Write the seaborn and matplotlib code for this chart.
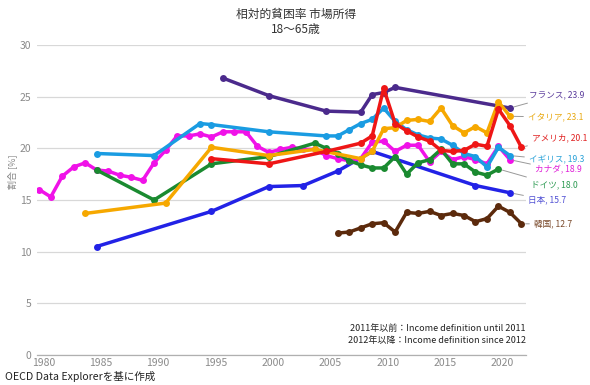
import pandas as pd
import matplotlib
matplotlib.use("Agg")
import matplotlib.pyplot as plt
import matplotlib.transforms as mtransforms
import seaborn as sns

# --- data (relative poverty rate, market income, age 18-65) ---
canada_years = list(range(1980, 2022))
canada_vals = [16.0, 15.3, 17.3, 18.2, 18.6, 17.9, 17.8, 17.4, 17.2, 16.9,
               18.6, 19.8, 21.2, 21.2, 21.4, 21.1, 21.6, 21.6, 21.6, 20.2,
               19.6, 19.9, 20.1, 19.9, 19.9, 19.3, 19.0, 18.8, 19.0, 20.6,
               20.7, 19.7, 20.3, 20.3, 18.7, 19.7, 18.9, 19.2, 18.9, 18.5,
               20.2, 18.9]

uk_years = [1985, 1990, 1994, 1995, 2000, 2005, 2006, 2007, 2008, 2009, 2010,
            2011, 2012, 2013, 2014, 2015, 2016, 2017, 2018, 2019, 2020, 2021]
uk_vals = [19.5, 19.3, 22.4, 22.3, 21.6, 21.2, 21.2, 21.8, 22.4, 22.8, 23.9,
           22.6, 21.8, 21.3, 21.0, 20.9, 20.3, 19.5, 19.2, 18.2, 20.1, 19.3]

germany_years = [1985, 1990, 1995, 2000, 2004, 2005, 2006, 2007, 2008, 2009,
                 2010, 2011, 2012, 2013, 2014, 2015, 2016, 2017, 2018, 2019, 2020]
germany_vals = [17.9, 15.0, 18.5, 19.2, 20.5, 20.0, 19.5, 18.8, 18.4, 18.1,
                18.1, 19.2, 17.5, 18.6, 18.9, 19.9, 18.5, 18.5, 17.7, 17.4, 18.0]

italy_years = [1984, 1991, 1995, 2000, 2004, 2008, 2009, 2010, 2011, 2012, 2013,
               2014, 2015, 2016, 2017, 2018, 2019, 2020, 2021]
italy_vals = [13.7, 14.7, 20.1, 19.3, 19.9, 19.0, 19.7, 21.9, 22.0, 22.7, 22.8,
              22.6, 23.9, 22.2, 21.5, 22.1, 21.5, 24.5, 23.1]

usa_years = [1995, 2000, 2005, 2008, 2009, 2010, 2011, 2012, 2013, 2014, 2015,
             2016, 2017, 2018, 2019, 2020, 2021, 2022]
usa_vals = [19.0, 18.5, 19.7, 20.5, 21.2, 25.8, 22.4, 21.7, 21.1, 20.7, 19.8,
            19.7, 19.8, 20.4, 20.2, 23.8, 22.2, 20.1]

france_years = [1996, 2000, 2005, 2008, 2009, 2010, 2011, 2021]
france_vals = [26.8, 25.1, 23.6, 23.5, 25.2, 25.4, 25.9, 23.9]

japan_years = [1985, 1995, 2000, 2003, 2006, 2009, 2018, 2021]
japan_vals = [10.5, 13.9, 16.3, 16.4, 17.8, 19.7, 16.4, 15.7]

korea_years = list(range(2006, 2023))
korea_vals = [11.8, 11.9, 12.3, 12.7, 12.8, 11.9, 13.8, 13.7, 13.9, 13.5, 13.7,
              13.5, 12.9, 13.2, 14.4, 13.8, 12.7]

countries = ["フランス", "韓国", "日本", "カナダ", "ドイツ", "イギリス", "イタリア", "アメリカ"]
series = {
    "フランス": (france_years, france_vals),
    "韓国": (korea_years, korea_vals),
    "日本": (japan_years, japan_vals),
    "カナダ": (canada_years, canada_vals),
    "ドイツ": (germany_years, germany_vals),
    "イギリス": (uk_years, uk_vals),
    "イタリア": (italy_years, italy_vals),
    "アメリカ": (usa_years, usa_vals),
}
line_colors = {
    "フランス": "#4b2a8c", "韓国": "#5c2a0c", "日本": "#2222e6", "カナダ": "#f012e8",
    "ドイツ": "#1a8a30", "イギリス": "#1a9ce2", "イタリア": "#f6a800", "アメリカ": "#ee1616",
}
text_colors = {
    "フランス": "#5b3c9c", "韓国": "#7a4a2c", "日本": "#5050d4", "カナダ": "#e020d8",
    "ドイツ": "#2c9a52", "イギリス": "#2aa2d8", "イタリア": "#e8a810", "アメリカ": "#e02020",
}
# label anchor in image pixels (x, y from top)
label_pos = {
    "フランス": (529, 95), "イタリア": (528, 117), "アメリカ": (532, 138),
    "イギリス": (529, 160), "カナダ": (535, 170), "ドイツ": (531, 185),
    "日本": (528, 200), "韓国": (534, 224),
}

rows = []
for name in countries:
    ys, vs = series[name]
    for y, v in zip(ys, vs):
        rows.append({"country": name, "year": y, "value": v})
df = pd.DataFrame(rows)

sns.set_style("white")
plt.rcParams["font.family"] = ["Noto Sans CJK JP", "DejaVu Sans"]

W, H = 590, 385
fig = plt.figure(figsize=(5.9, 3.85), dpi=100)
ax = fig.add_axes([37 / W, (H - 355) / H, (526 - 37) / W, (355 - 45) / H])

for name in countries:
    d = df[df["country"] == name]
    sns.lineplot(data=d, x="year", y="value", ax=ax, color=line_colors[name],
                 marker="o", markersize=5, markeredgewidth=0, linewidth=2.5,
                 legend=False)

ax.set_xlim(1979.8, 2022.4)
ax.set_ylim(0, 30)
ax.set_yticks(range(0, 31, 5))
ax.set_xticks(range(1980, 2021, 5))
ax.yaxis.grid(True, color="#d8d8d8", linewidth=0.9)
ax.xaxis.grid(False)
ax.set_axisbelow(True)
for s in ["top", "right", "left"]:
    ax.spines[s].set_visible(False)
ax.spines["bottom"].set_color("#b0b0b0")
ax.spines["bottom"].set_linewidth(0.9)
ax.tick_params(axis="both", length=0, labelsize=7.5, labelcolor="#8a8a8a")
ax.tick_params(axis="y", pad=4)
ax.tick_params(axis="x", pad=2)
shift = mtransforms.ScaledTranslation(4 / 100, 0, fig.dpi_scale_trans)
for lbl in ax.get_xticklabels():
    lbl.set_transform(lbl.get_transform() + shift)
ax.set_xlabel("")
ax.set_ylabel("")

# end labels with leader lines
for name, (px, py) in label_pos.items():
    ys, vs = series[name]
    ax.annotate(f"{name}, {vs[-1]}", xy=(ys[-1], vs[-1]),
                xytext=(px, H - py), textcoords="figure pixels",
                fontsize=6.2, color=text_colors[name], va="center", ha="left",
                arrowprops=dict(arrowstyle="-", color="#999999", lw=0.7,
                                shrinkA=1, shrinkB=3))

fig.text(296 / W, 1 - 14 / H, "相対的貧困率 市場所得", ha="center", va="center",
         fontsize=8.5, color="#333333")
fig.text(296 / W, 1 - 29 / H, "18〜65歳", ha="center", va="center",
         fontsize=8.5, color="#333333")
fig.text(12 / W, 1 - 172 / H, "割合 [%]", rotation=90, ha="center", va="center",
         fontsize=6.5, color="#8a8a8a")
fig.text(526 / W, 1 - 328 / H, "2011年以前：Income definition until 2011",
         ha="right", va="center", fontsize=6.5, color="#222222")
fig.text(526 / W, 1 - 341 / H, "2012年以降：Income definition since 2012",
         ha="right", va="center", fontsize=6.5, color="#222222")
fig.text(5 / W, 1 - 376 / H, "OECD Data Explorerを基に作成",
         ha="left", va="center", fontsize=7.6, color="#222222")

fig.savefig("out.png", dpi=100)
